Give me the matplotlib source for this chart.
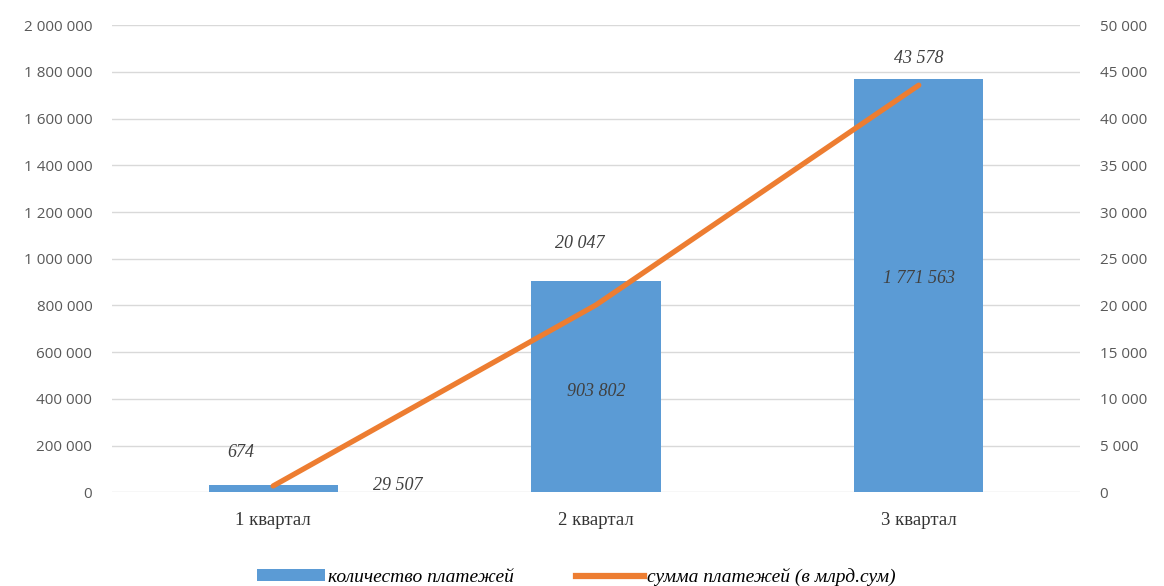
import matplotlib
matplotlib.use("Agg")
import matplotlib.pyplot as plt
from matplotlib.lines import Line2D
from matplotlib.patches import Patch

categories = ["1 квартал", "2 квартал", "3 квартал"]
counts = [29507, 903802, 1771563]
sums = [674, 20047, 43578]
left_ticks = list(range(0, 2000001, 200000))
right_ticks = list(range(0, 50001, 5000))

def fmt(v):
    return f"{v:,}".replace(",", " ")

bar_color = "#5B9BD5"
line_color = "#ED7D31"
tick_color = "#595959"

fig = plt.figure(figsize=(11.64, 5.86), dpi=100)
ax = fig.add_axes([0.096, 0.160, 0.832, 0.797])
ax2 = ax.twinx()

x = list(range(len(categories)))
ax.bar(x, counts, width=0.40, color=bar_color, zorder=2)
ax.set_xlim(-0.5, 2.5)
ax.set_ylim(0, 2000000)
ax.set_yticks(left_ticks)
ax.set_yticklabels([fmt(v) for v in left_ticks], fontsize=11, color=tick_color, family="Open Sans")
ax.set_xticks(x)
ax.set_xticklabels(categories, fontsize=13.5, color="#333333", family="Liberation Serif")
ax.grid(axis="y", color="#D9D9D9", linewidth=1, zorder=0)
ax.set_axisbelow(True)
ax.tick_params(axis="y", length=0, pad=14)
ax.tick_params(axis="x", length=0, pad=14)
for s in ax.spines.values():
    s.set_visible(False)

ax2.plot(x, sums, color=line_color, linewidth=3.8, solid_capstyle="round", zorder=3)
ax2.set_ylim(0, 50000)
ax2.set_yticks(right_ticks)
ax2.set_yticklabels([fmt(v) for v in right_ticks], fontsize=11, color=tick_color, family="Open Sans")
ax2.tick_params(axis="y", length=0, pad=14)
for s in ax2.spines.values():
    s.set_visible(False)

lab = dict(fontsize=13, style="italic", family="Liberation Serif", color="#404040")
# bar labels
ax.text(x[0] + 0.31, counts[0], fmt(counts[0]), ha="left", va="center", **lab)
ax.text(x[1], counts[1] / 2 - 20000, fmt(counts[1]), ha="center", va="center", **lab)
ax.text(x[2], counts[2] / 2 + 30000, fmt(counts[2]), ha="center", va="center", **lab)
# line labels
ax2.text(x[0] - 0.1, sums[0] + 3600, fmt(sums[0]), ha="center", va="center", **lab)
ax2.text(x[1] - 0.05, sums[1] + 6600, fmt(sums[1]), ha="center", va="center", **lab)
ax2.text(x[2], sums[2] + 2900, fmt(sums[2]), ha="center", va="center", **lab)

handles = [Patch(facecolor=bar_color, edgecolor="none"),
           Line2D([0], [0], color=line_color, linewidth=4.5)]
fig.legend(handles, ["количество платежей", "сумма платежей (в млрд.сум)"],
           loc="lower center", bbox_to_anchor=(0.495, -0.03), ncol=2, frameon=False,
           prop=dict(family="Liberation Serif", style="italic", size=14),
           handlelength=3.5, handleheight=0.6, handletextpad=0.15, columnspacing=3.2)

fig.savefig("out.png", dpi=100)
